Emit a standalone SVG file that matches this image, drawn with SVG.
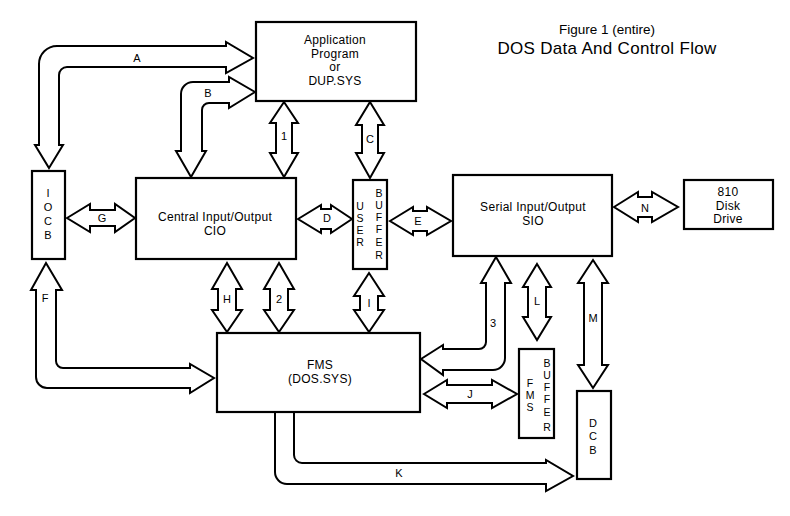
<svg xmlns="http://www.w3.org/2000/svg" width="790" height="516" viewBox="0 0 790 516">
<style>
.box{fill:#fff;stroke:#000;stroke-width:2.2}
.arr{fill:#fff;stroke:#000;stroke-width:2;stroke-linejoin:miter}
.t{font-family:"Liberation Sans",Arial,sans-serif;font-size:12px;letter-spacing:0.3px;text-anchor:middle;fill:#000}
.l{font-family:"Liberation Sans",Arial,sans-serif;font-size:11px;text-anchor:middle;fill:#000}
.v{font-family:"Liberation Sans",Arial,sans-serif;font-size:10.5px;text-anchor:middle;fill:#000}
</style>
<rect width="790" height="516" fill="#fff"/>
<g id="connectors">
  <path id="arrA" class="arr" d="M49,168 L63,145 L59,145 L59,75 A8,8 0 0 1 67,67 L226,67 L226,73 L253,58 L226,42 L226,46 L57,46 A18,18 0 0 0 39,64 L39,145 L35,145 Z"/>
  <path id="arrB" class="arr" d="M191,177 L206,151 L202,151 L202,110 A7,7 0 0 1 209,103 L229,103 L229,108 L255,92 L229,77 L229,82 L193,82 A12,12 0 0 0 181,94 L181,151 L176,151 Z"/>
  <polygon id="arr1" class="arr" points="284,102 298,123 292,123 292,153 298,153 284,177 270,153 276,153 276,123 270,123"/>
  <polygon id="arrC" class="arr" points="370,102 384,125 378,125 378,153 384,153 370,178 356,153 362,153 362,125 356,125"/>
  <polygon id="arrG" class="arr" points="67,218 90,204 90,210 115,210 115,204 135,218 115,232 115,226 90,226 90,232"/>
  <polygon id="arrD" class="arr" points="298,219 321,205 321,209 331,209 331,205 352,219 331,233 331,229 321,229 321,233"/>
  <polygon id="arrE" class="arr" points="390,221 413,207 413,211 427,211 427,207 451,221 427,235 427,231 413,231 413,235"/>
  <polygon id="arrN" class="arr" points="614,207 638,192 638,197 652,197 652,192 678,207 652,222 652,217 638,217 638,222"/>
  <path id="arrF" class="arr" d="M46,263 L62,290 L56,290 L56,361 A7,7 0 0 0 63,368 L190,368 L190,364 L214,378 L190,393 L190,388 L47,388 A11,11 0 0 1 36,377 L36,290 L31,290 Z"/>
  <polygon id="arrH" class="arr" points="227,263 242,289 236,289 236,310 242,310 227,332 212,310 218,310 218,289 212,289"/>
  <polygon id="arr2" class="arr" points="279,263 294,289 288,289 288,310 294,310 279,332 264,310 270,310 270,289 264,289"/>
  <polygon id="arrI" class="arr" points="369,273 384,296 378,296 378,310 384,310 369,332 354,310 360,310 360,296 354,296"/>
  <path id="arr3" class="arr" d="M496,257 L511,283 L505,283 L505,358 A12,12 0 0 1 493,370 L443,370 L443,375 L421,359 L443,345 L443,349 L479,349 A7,7 0 0 0 486,342 L486,283 L481,283 Z"/>
  <polygon id="arrL" class="arr" points="537,264 551,287 546,287 546,317 551,317 537,340 523,317 528,317 528,287 523,287"/>
  <polygon id="arrM" class="arr" points="593,260 608,283 602,283 602,365 608,365 593,388 578,365 584,365 584,283 578,283"/>
  <polygon id="arrJ" class="arr" points="424,394 447,380 447,385 492,385 492,380 517,394 492,408 492,403 447,403 447,408"/>
  <path id="arrK" class="arr" d="M294,412 L294,455 A8,8 0 0 0 302,463 L546,463 L546,460 L573,476 L546,491 L546,484 L287,484 A12,12 0 0 1 275,472 L275,412 Z"/>
  <text class="l" x="137" y="62">A</text>
  <text class="l" x="208" y="97">B</text>
  <text class="l" x="284" y="140">1</text>
  <text class="l" x="370" y="143">C</text>
  <text class="l" x="102" y="222">G</text>
  <text class="l" x="327" y="222">D</text>
  <text class="l" x="418" y="225">E</text>
  <text class="l" x="645" y="212">N</text>
  <text class="l" x="45" y="302">F</text>
  <text class="l" x="227" y="303">H</text>
  <text class="l" x="279" y="303">2</text>
  <text class="l" x="369" y="307">I</text>
  <text class="l" x="493" y="327">3</text>
  <text class="l" x="537" y="305">L</text>
  <text class="l" x="593" y="322">M</text>
  <text class="l" x="470" y="398">J</text>
  <text class="l" x="399" y="477">K</text>
</g>
<g id="title">
  <text class="t" x="607" y="34" style="font-size:13.5px;letter-spacing:0">Figure 1 (entire)</text>
  <text class="t" x="607" y="54" style="font-size:17px">DOS Data And Control Flow</text>
</g>
<g id="app">
  <rect class="box" x="256" y="22" width="160" height="79"/>
  <text class="t" x="335" y="44">Application</text>
  <text class="t" x="335" y="57.5">Program</text>
  <text class="t" x="335" y="71">or</text>
  <text class="t" x="335" y="84.5">DUP.SYS</text>
</g>
<g id="iocb">
  <rect class="box" x="32" y="171" width="33" height="88"/>
  <text class="l" x="48" y="197">I</text>
  <text class="l" x="48" y="211">O</text>
  <text class="l" x="48" y="225">C</text>
  <text class="l" x="48" y="239">B</text>
</g>
<g id="cio">
  <rect class="box" x="136" y="178" width="160" height="81"/>
  <text class="t" x="215" y="221">Central Input/Output</text>
  <text class="t" x="215" y="235">CIO</text>
</g>
<g id="userbuffer">
  <rect class="box" x="353" y="180" width="34" height="89"/>
  <text class="v" x="360" y="210">U</text>
  <text class="v" x="360" y="222">S</text>
  <text class="v" x="360" y="234">E</text>
  <text class="v" x="360" y="246">R</text>
  <text class="v" x="379" y="197">B</text>
  <text class="v" x="379" y="209">U</text>
  <text class="v" x="379" y="221">F</text>
  <text class="v" x="379" y="233">F</text>
  <text class="v" x="379" y="246">E</text>
  <text class="v" x="379" y="259">R</text>
</g>
<g id="sio">
  <rect class="box" x="453" y="175" width="159" height="81"/>
  <text class="t" x="533" y="211">Serial Input/Output</text>
  <text class="t" x="533" y="225">SIO</text>
</g>
<g id="disk">
  <rect class="box" x="684" y="180" width="89" height="49"/>
  <text class="t" x="728" y="196">810</text>
  <text class="t" x="728" y="209.5">Disk</text>
  <text class="t" x="728" y="223">Drive</text>
</g>
<g id="fms">
  <rect class="box" x="217" y="333" width="203" height="79"/>
  <text class="t" x="320" y="369">FMS</text>
  <text class="t" x="320" y="383">(DOS.SYS)</text>
</g>
<g id="fmsbuffer">
  <rect class="box" x="519" y="349" width="35" height="89"/>
  <text class="v" x="530" y="387">F</text>
  <text class="v" x="530" y="399">M</text>
  <text class="v" x="530" y="411">S</text>
  <text class="v" x="547" y="367">B</text>
  <text class="v" x="547" y="379">U</text>
  <text class="v" x="547" y="391">F</text>
  <text class="v" x="547" y="403">F</text>
  <text class="v" x="547" y="416">E</text>
  <text class="v" x="547" y="431">R</text>
</g>
<g id="dcb">
  <rect class="box" x="577" y="391" width="34" height="88"/>
  <text class="l" x="593" y="427">D</text>
  <text class="l" x="593" y="440">C</text>
  <text class="l" x="593" y="454">B</text>
</g>
</svg>
